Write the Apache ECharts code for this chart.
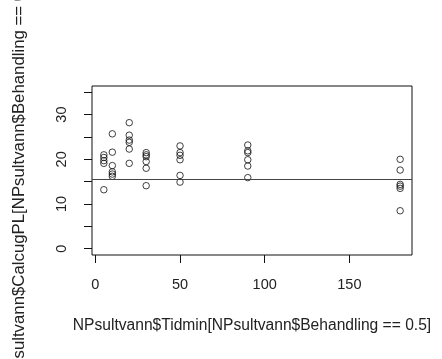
<!DOCTYPE html>
<html>
<head>
<meta charset="utf-8">
<script src="https://cdn.jsdelivr.net/npm/echarts@6/dist/echarts.min.js"></script>
<style>
  html, body { margin: 0; padding: 0; background: #fff; }
  #chart { width: 442px; height: 359px; }
</style>
</head>
<body>
<div id="chart"></div>
<script>
// Measurement times (minutes) and the calculated values at each time
const tidmin = [5, 10, 20, 30, 50, 90, 180];
const calcValues = [
  [21.0, 20.4, 19.7, 19.1, 13.2],
  [25.7, 21.6, 18.6, 17.2, 16.7, 16.2],
  [28.2, 25.4, 24.3, 23.8, 22.3, 19.1],
  [21.5, 21.0, 20.6, 19.5, 18.0, 14.1],
  [23.0, 21.5, 20.9, 19.9, 16.4, 14.9],
  [23.2, 21.9, 21.5, 19.9, 18.5, 15.9],
  [20.0, 17.6, 14.4, 14.0, 13.5, 8.5]
];
// Reference level drawn as a horizontal line
const refLevel = 15.5;
const xTicks = [0, 50, 100, 150];
const yTicks = [0, 5, 10, 15, 20, 25, 30, 35];
const yTickLabels = [0, 10, 20, 30];
const xTitle = 'NPsultvann$Tidmin[NPsultvann$Behandling == 0.5]';
const yTitle = 'NPsultvann$CalcugPL[NPsultvann$Behandling == 0.5]';

const points = [];
tidmin.forEach((t, i) => calcValues[i].forEach(v => points.push([t, v])));

const font = 'Liberation Sans, Arial, sans-serif';
const ink = '#222';

const chart = echarts.init(document.getElementById('chart'), null, { renderer: 'canvas' });
chart.setOption({
  animation: false,
  backgroundColor: '#fff',
  grid: {
    left: 92, top: 86, right: 30, bottom: 104,
    containLabel: false, outerBoundsMode: 'none',
    show: true, borderColor: '#111', borderWidth: 1, backgroundColor: 'transparent'
  },
  xAxis: {
    type: 'value', min: -2, max: 187,
    splitLine: { show: false },
    axisLine: { show: false, onZero: false },
    axisTick: { show: true, inside: false, length: 8, lineStyle: { color: '#111' }, customValues: xTicks },
    axisLabel: { customValues: xTicks, color: ink, fontFamily: font, fontSize: 14.5, margin: 22 },
    name: xTitle, nameLocation: 'middle', nameGap: 63,
    nameTextStyle: { color: ink, fontFamily: font, fontSize: 15.6 }
  },
  yAxis: {
    type: 'value', min: -1.4, max: 36.4,
    splitLine: { show: false },
    axisLine: { show: false, onZero: false },
    axisTick: { show: true, inside: false, length: 8, lineStyle: { color: '#111' }, customValues: yTicks },
    axisLabel: { customValues: yTickLabels, rotate: 90, color: ink, fontFamily: font, fontSize: 14.5, margin: 23 },
    name: yTitle, nameLocation: 'middle', nameRotate: 90, nameGap: 64,
    nameTextStyle: { color: ink, fontFamily: font, fontSize: 16.8, padding: [0, 14, 0, 0] }
  },
  series: [{
    type: 'scatter',
    data: points,
    symbol: 'circle',
    symbolSize: 6.5,
    itemStyle: { color: 'rgba(0,0,0,0)', borderColor: '#111', borderWidth: 1 },
    markLine: {
      silent: true,
      symbol: ['none', 'none'],
      label: { show: false },
      lineStyle: { color: '#444', width: 1, type: 'solid' },
      data: [{ yAxis: refLevel }]
    }
  }]
});
</script>
</body>
</html>
